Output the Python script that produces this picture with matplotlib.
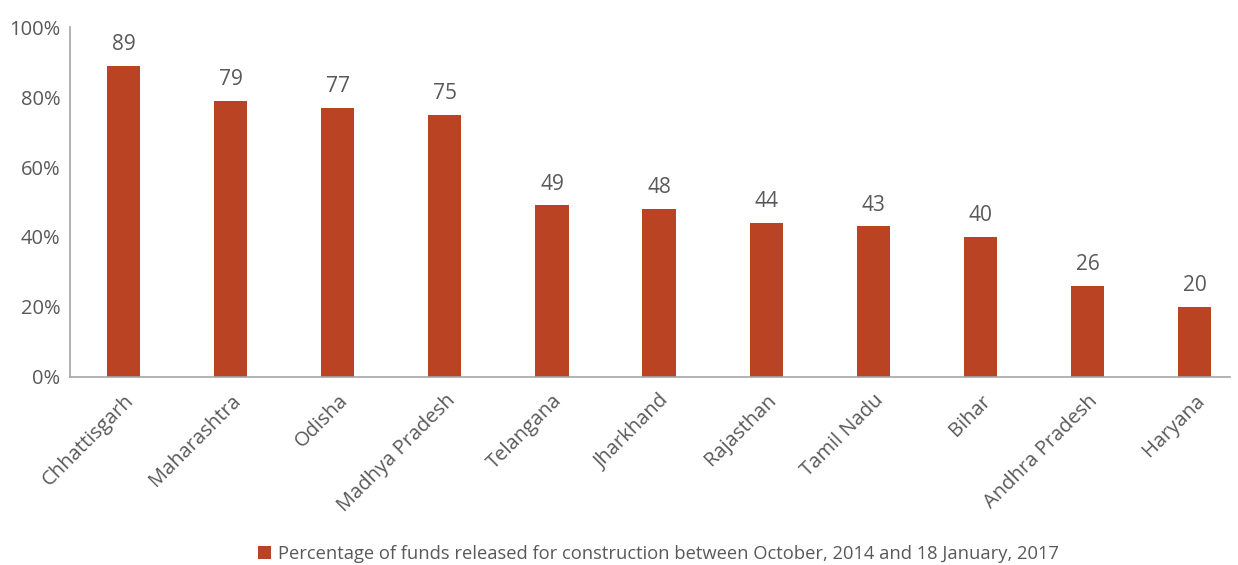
import matplotlib
matplotlib.use("Agg")
import matplotlib.pyplot as plt
import numpy as np
from matplotlib.ticker import FuncFormatter

states = ["Chhattisgarh", "Maharashtra", "Odisha", "Madhya Pradesh", "Telangana",
          "Jharkhand", "Rajasthan", "Tamil Nadu", "Bihar", "Andhra Pradesh", "Haryana"]
released = [89, 79, 77, 75, 49, 48, 44, 43, 40, 26, 20]
legend_label = "Percentage of funds released for construction between October, 2014 and 18 January, 2017"

plt.rcParams['font.family'] = ['Open Sans', 'DejaVu Sans']
grey = "#595959"
bar_color = "#B94323"

fig = plt.figure(figsize=(12.38, 5.65), dpi=100)
ax = fig.add_axes([0.0565, 0.333, 0.937, 0.619])

x = np.arange(len(states))
bars = ax.bar(x, released, width=0.31, color=bar_color, label=legend_label)

for xi, v in zip(x, released):
    ax.text(xi, v + 3, str(v), ha="center", va="bottom", fontsize=15, color=grey)

ax.set_ylim(0, 100)
ax.set_xlim(-0.5, len(states) - 0.67)
ax.set_yticks(range(0, 101, 20))
ax.yaxis.set_major_formatter(FuncFormatter(lambda v, p: f"{int(v)}%"))
ax.set_xticks(x)
ax.set_xticklabels(states, rotation=45, ha="right", rotation_mode="anchor")
ax.tick_params(axis="both", length=0, labelsize=14.5, labelcolor=grey)
ax.tick_params(axis="y", pad=7)
ax.tick_params(axis="x", pad=10)

for s in ["top", "right"]:
    ax.spines[s].set_visible(False)
ax.spines["left"].set_color("#A6A6A6")
ax.spines["bottom"].set_color("#A6A6A6")
ax.spines["left"].set_linewidth(1.2)
ax.spines["bottom"].set_linewidth(1.2)

leg = fig.legend(handles=[bars], labels=[legend_label], loc="lower center",
                 bbox_to_anchor=(0.532, -0.025), frameon=False, fontsize=13.2,
                 handlelength=0.7, handleheight=0.7, handletextpad=0.4)
for t in leg.get_texts():
    t.set_color(grey)

fig.savefig("out.png", dpi=100)
